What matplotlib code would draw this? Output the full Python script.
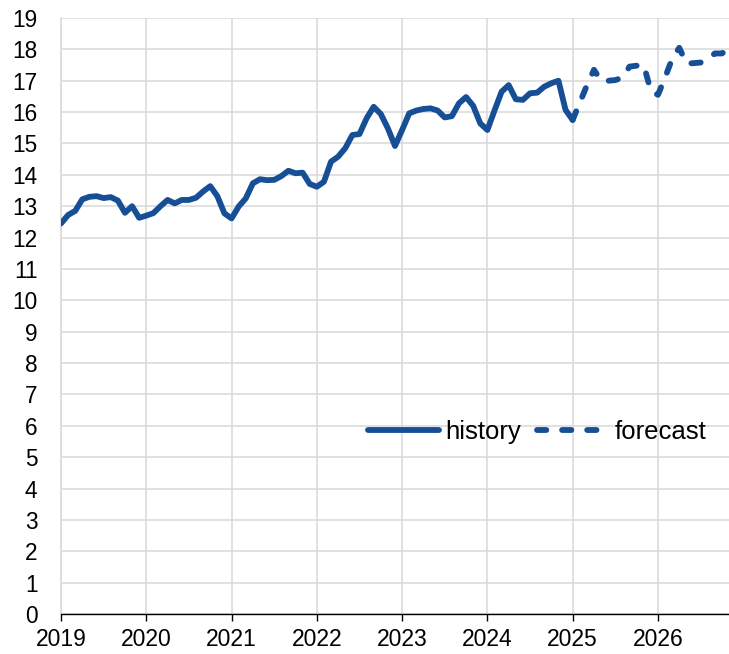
import matplotlib
matplotlib.use("Agg")
import matplotlib.pyplot as plt
import numpy as np

plt.rcParams['font.family'] = ['Liberation Sans', 'DejaVu Sans']

# monthly values, Jan 2019 .. Jan 2025 (history), Jan 2025 .. Nov 2026 (forecast)
history = [12.45, 12.72, 12.85, 13.22, 13.30, 13.32, 13.26, 13.29, 13.18, 12.79, 13.00, 12.63,
           12.70, 12.78, 13.00, 13.20, 13.09, 13.20, 13.20, 13.27, 13.47, 13.64, 13.32, 12.77,
           12.61, 12.99, 13.25, 13.73, 13.86, 13.83, 13.84, 13.96, 14.13, 14.05, 14.07, 13.71,
           13.62, 13.78, 14.42, 14.58, 14.85, 15.27, 15.30, 15.80, 16.17, 15.94, 15.48, 14.92,
           15.43, 15.96, 16.05, 16.10, 16.12, 16.05, 15.83, 15.87, 16.28, 16.48, 16.20, 15.64,
           15.43, 16.05, 16.65, 16.86, 16.41, 16.39, 16.60, 16.62, 16.81, 16.92, 17.00, 16.07,
           15.75]
forecast = [15.75, 16.30, 16.85, 17.35, 17.00, 17.00, 17.02, 17.10, 17.45, 17.48, 17.50, 16.68,
            16.55, 17.10, 17.70, 18.05, 17.55, 17.56, 17.58, 17.68, 17.87, 17.87, 18.02]
start_year = 2019
years = list(range(2019, 2027))

x_hist = start_year + np.arange(len(history)) / 12
x_fc = x_hist[-1] + np.arange(len(forecast)) / 12

blue = '#174f97'
grid_col = '#d9d9d9'

fig = plt.figure(figsize=(7.29, 6.54), dpi=100)
ax = fig.add_axes([61 / 729, 40 / 654, 668 / 729, 596 / 654])

ax.plot(x_hist, history, color=blue, lw=4.2, solid_capstyle='round',
        solid_joinstyle='round', label='history', zorder=3)
ax.plot(x_fc, forecast, color=blue, lw=4.2, linestyle=(0, (1.6, 2.7)),
        dash_capstyle='round', dash_joinstyle='round', label='forecast', zorder=3)

ax.set_xlim(start_year, x_fc[-1])
ax.set_ylim(0, 19)
ax.set_yticks(range(0, 20))
ax.set_xticks(years)
ax.set_xticklabels([str(y) for y in years])

ax.grid(True, color=grid_col, lw=1.1, zorder=0)
ax.set_axisbelow(True)
for s in ['top', 'right']:
    ax.spines[s].set_visible(False)
ax.spines['left'].set_color(grid_col)
ax.spines['left'].set_linewidth(1.1)
ax.spines['bottom'].set_color('black')
ax.spines['bottom'].set_linewidth(1.0)

ax.tick_params(axis='y', length=0, pad=17, labelsize=16.3)
ax.tick_params(axis='x', direction='out', length=5, width=1, pad=5, labelsize=16.5)

ax.legend(loc='center', bbox_to_anchor=(0.713, 0.305), ncol=2, frameon=False,
          fontsize=18.5, handlelength=2.76, handletextpad=0.27, columnspacing=0.62,
          borderpad=0, borderaxespad=0)

fig.savefig('out.png', dpi=100)
